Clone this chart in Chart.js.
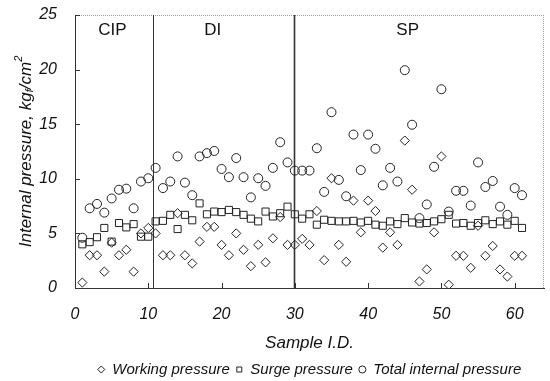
<!DOCTYPE html>
<html>
<head>
<meta charset="utf-8">
<script src="https://cdn.jsdelivr.net/npm/chart.js@4.4.0/dist/chart.umd.min.js"></script>
<style>
    html, body { margin: 0; padding: 0; background: #fff; }
</style>
</head>
<body>
<canvas id="chart" width="550" height="381"></canvas>
<script>
// Sample I.D. of every pipe sample
const sampleIds = [
    1, 2, 3, 4, 5, 6, 7, 8, 9, 10,
    11, 12, 13, 14, 15, 16, 17, 18, 19, 20,
    21, 22, 23, 24, 25, 26, 27, 28, 29, 30,
    31, 32, 33, 34, 35, 36, 37, 38, 39, 40,
    41, 42, 43, 44, 45, 46, 47, 48, 49, 50,
    51, 52, 53, 54, 55, 56, 57, 58, 59, 60,
    61
];

// kgf/cm2
const workingPressure = [
    0.5, 3.0, 3.0, 1.5, 4.15, 3.0, 3.5, 1.5, 5.0, 5.5,
    5.0, 3.0, 3.0, 6.85, 3.0, 2.25, 4.25, 5.6, 5.6, 3.95,
    3.0, 5.0, 3.5, 2.0, 3.95, 2.35, 4.55, 6.5, 3.95, 3.95,
    4.5, 3.95, 7.05, 2.55, 10.05, 3.95, 2.4, 8.0, 5.1, 8.0,
    7.05, 3.7, 5.1, 3.95, 13.5, 9.0, 0.6, 1.7, 5.1, 12.05,
    0.3, 2.95, 2.95, 1.85, 5.7, 2.95, 3.85, 1.7, 1.05, 2.95,
    2.95
];
const surgePressure = [
    4.0, 4.2, 4.65, 5.5, 4.25, 5.95, 5.55, 5.85, 4.7, 4.7,
    6.1, 6.15, 6.7, 5.4, 6.7, 6.2, 7.75, 6.75, 7.0, 6.95,
    7.15, 6.95, 6.7, 6.35, 6.1, 7.0, 6.55, 6.85, 7.45, 6.75,
    6.35, 6.75, 5.8, 6.25, 6.15, 6.1, 6.1, 6.15, 6.0, 6.15,
    5.8, 5.7, 6.1, 5.85, 6.4, 6.0, 5.9, 5.95, 6.1, 6.3,
    6.7, 5.9, 5.95, 5.7, 5.95, 6.2, 5.85, 6.1, 5.8, 6.15,
    5.5
];
const totalPressure = [
    4.6, 7.3, 7.7, 6.9, 8.2, 9.0, 9.1, 7.3, 9.75, 10.05,
    11.0, 9.15, 9.75, 12.05, 9.65, 8.5, 12.05, 12.35, 12.55, 10.9,
    10.15, 11.9, 10.15, 8.3, 10.05, 9.35, 11.0, 13.35, 11.5, 10.75,
    10.75, 10.75, 12.8, 8.8, 16.1, 9.9, 8.4, 14.05, 10.8, 14.05,
    12.75, 9.4, 11.0, 9.75, 19.95, 14.95, 6.4, 7.65, 11.1, 18.2,
    7.0, 8.9, 8.9, 7.55, 11.5, 9.25, 9.8, 7.45, 6.7, 9.15,
    8.5
];

const xTickValues = [0, 10, 20, 30, 40, 50, 60];
const yTickValues = [0, 5, 10, 15, 20, 25];

// pipe groups and where they split along the Sample I.D. axis
const groupNames = ['CIP', 'DI', 'SP'];
const groupSplits = [10.6, 29.9];

const FONT = "'Liberation Sans', Arial, sans-serif";
const INK = '#111';

Chart.defaults.font.family = FONT;
Chart.defaults.color = INK;

const toPoints = values => sampleIds.map((id, i) => ({ x: id, y: values[i] }));

// dotted top/right edge, inward ticks, group dividers and names
const framePlugin = {
    id: 'frame',
    beforeDatasetsDraw(chart) {
        const { ctx, chartArea: a, scales: { x, y } } = chart;
        ctx.save();

        ctx.strokeStyle = '#9a9a9a';
        ctx.lineWidth = 1;
        ctx.setLineDash([1, 1]);
        ctx.beginPath();
        ctx.moveTo(a.left, a.top + 0.5);
        ctx.lineTo(a.right, a.top + 0.5);
        ctx.moveTo(a.right - 0.5, a.top);
        ctx.lineTo(a.right - 0.5, a.bottom);
        ctx.stroke();
        ctx.setLineDash([]);

        ctx.strokeStyle = '#333';
        ctx.beginPath();
        x.ticks.forEach(t => {
            const px = Math.round(x.getPixelForValue(t.value)) + 0.5;
            ctx.moveTo(px, a.bottom);
            ctx.lineTo(px, a.bottom - 5);
        });
        y.ticks.forEach(t => {
            const py = Math.round(y.getPixelForValue(t.value)) + 0.5;
            ctx.moveTo(a.left, py);
            ctx.lineTo(a.left + 5, py);
        });
        ctx.stroke();

        groupSplits.forEach((v, i) => {
            const px = Math.round(x.getPixelForValue(v)) + 0.5;
            ctx.lineWidth = i === 1 ? 1.6 : 1;
            ctx.beginPath();
            ctx.moveTo(px, a.top);
            ctx.lineTo(px, a.bottom);
            ctx.stroke();
        });

        const labelAt = [5.1, 18.8, 45.4];
        ctx.font = '17px ' + FONT;
        ctx.fillStyle = INK;
        ctx.textAlign = 'center';
        ctx.textBaseline = 'middle';
        groupNames.forEach((name, i) => {
            ctx.fillText(name, x.getPixelForValue(labelAt[i]), y.getPixelForValue(23.6));
        });
        ctx.restore();
    }
};

// y title needs a subscript f and a superscript 2
const pressureTitlePlugin = {
    id: 'pressureTitle',
    afterDraw(chart) {
        const { ctx, chartArea } = chart;
        const big = 'italic 17px ' + FONT;
        const small = 'italic 11px ' + FONT;
        const parts = [
            { text: 'Internal pressure, kg', font: big, dy: 0 },
            { text: 'f', font: small, dy: 4 },
            { text: '/cm', font: big, dy: 0 },
            { text: '2', font: small, dy: -7 }
        ];
        ctx.save();
        let total = 0;
        parts.forEach(p => {
            ctx.font = p.font;
            p.w = ctx.measureText(p.text).width;
            total += p.w;
        });
        ctx.translate(26, (chartArea.top + chartArea.bottom) / 2);
        ctx.rotate(-Math.PI / 2);
        ctx.fillStyle = INK;
        ctx.textBaseline = 'middle';
        let cx = -total / 2;
        parts.forEach(p => {
            ctx.font = p.font;
            ctx.fillText(p.text, cx, p.dy);
            cx += p.w;
        });
        ctx.restore();
    }
};

const markerBase = {
    showLine: false,
    borderColor: '#222',
    backgroundColor: 'transparent',
    borderWidth: 1,
    pointBorderWidth: 1
};

new Chart(document.getElementById('chart'), {
    type: 'scatter',
    data: {
        datasets: [
            { ...markerBase, label: 'Working pressure', data: toPoints(workingPressure), pointStyle: 'rectRot', pointRadius: 4.6 },
            { ...markerBase, label: 'Surge pressure', data: toPoints(surgePressure), pointStyle: 'rect', pointRadius: 5 },
            { ...markerBase, label: 'Total internal pressure', data: toPoints(totalPressure), pointStyle: 'circle', pointRadius: 4.5 }
        ]
    },
    options: {
        responsive: false,
        animation: false,
        events: [],
        layout: { autoPadding: false, padding: { top: 15, right: 6, left: 0, bottom: -6 } },
        scales: {
            x: {
                type: 'linear',
                min: 0,
                max: 64,
                afterBuildTicks: scale => { scale.ticks = xTickValues.map(v => ({ value: v })); },
                afterFit: scale => { scale.height = 68; },
                grid: { display: false, drawTicks: false },
                border: { display: true, color: '#333', width: 1 },
                ticks: { padding: 17, color: INK, font: { size: 16, style: 'italic' } },
                title: {
                    display: true,
                    text: 'Sample I.D.',
                    color: INK,
                    font: { size: 17, style: 'italic' },
                    padding: { top: 8, bottom: 3 }
                }
            },
            y: {
                min: 0,
                max: 25,
                afterBuildTicks: scale => { scale.ticks = yTickValues.map(v => ({ value: v })); },
                afterFit: scale => {
                    scale.width = 75;
                    scale.paddingTop = 0;
                    scale.paddingBottom = 0;
                },
                grid: { display: false, drawTicks: false },
                border: { display: true, color: '#333', width: 1 },
                ticks: { padding: 18, color: INK, font: { size: 16, style: 'italic' } }
            }
        },
        plugins: {
            legend: {
                position: 'bottom',
                fullSize: false,
                labels: {
                    usePointStyle: true,
                    boxWidth: 7,
                    boxHeight: 5,
                    padding: 6,
                    color: INK,
                    font: { size: 15, style: 'italic' }
                }
            },
            tooltip: { enabled: false }
        }
    },
    plugins: [framePlugin, pressureTitlePlugin]
});
</script>
</body>
</html>
